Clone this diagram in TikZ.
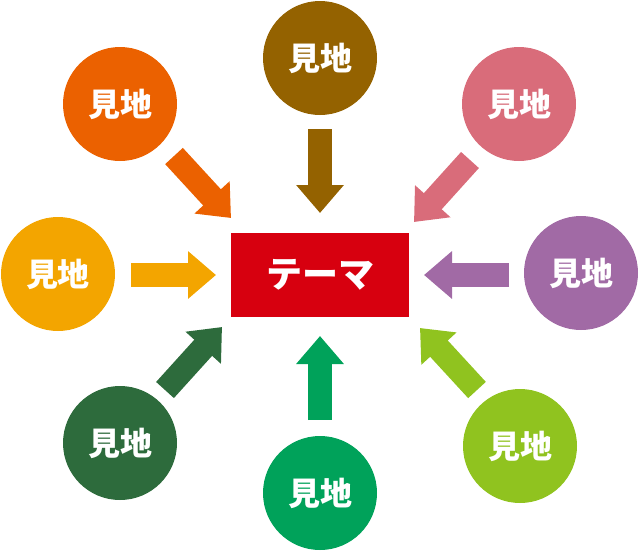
\documentclass[tikz,border=0pt]{standalone}
\usepackage{fontspec}
\newfontfamily\cjk{Noto Sans CJK JP}
\usetikzlibrary{arrows.meta}
\definecolor{cBrown}{HTML}{946200}
\definecolor{cOrange}{HTML}{EB6100}
\definecolor{cPink}{HTML}{D96C7A}
\definecolor{cYellow}{HTML}{F3A500}
\definecolor{cPurple}{HTML}{A16AA5}
\definecolor{cDkGreen}{HTML}{2D6B3C}
\definecolor{cGreen}{HTML}{00A25A}
\definecolor{cLime}{HTML}{90C31F}
\definecolor{cRed}{HTML}{D7000F}
\tikzset{
  view/.style={circle, fill=#1, minimum size=114pt, inner sep=0pt, text=white,
    font=\cjk\bfseries\fontsize{32pt}{32pt}\selectfont},
  blockarrow/.style={draw=#1, line width=24pt,
    -{Triangle[length=28pt,width=46pt]}},
}
\begin{document}
\begin{tikzpicture}[x=1pt,y=-1pt]
\useasboundingbox (0,0) rectangle (640,550);
% theme
\node[fill=cRed, minimum width=178pt, minimum height=84pt, inner sep=0pt, text=white,
  font=\cjk\bfseries\fontsize{36pt}{36pt}\selectfont] (theme) at (320,275) {テーマ};
% viewpoints
\node[view=cBrown]   (vT)  at (320,58)  {見地};
\node[view=cOrange]  (vTL) at (120,104) {見地};
\node[view=cPink]    (vTR) at (519,104) {見地};
\node[view=cYellow]  (vL)  at (58,274)  {見地};
\node[view=cPurple]  (vR)  at (581,273) {見地};
\node[view=cDkGreen] (vBL) at (120,443) {見地};
\node[view=cGreen]   (vB)  at (320,493) {見地};
\node[view=cLime]    (vBR) at (520,446) {見地};
% arrow ends
\coordinate (aT1) at (320,129); \coordinate (aT2) at (320,213);
\coordinate (aB1) at (320,420); \coordinate (aB2) at (320,336);
\coordinate (aL1) at (131,275); \coordinate (aL2) at (216,275);
\coordinate (aR1) at (509,275); \coordinate (aR2) at (424,275);
\coordinate (aTL1) at (174,156); \coordinate (aTL2) at (231,218);
\coordinate (aTR1) at (470,160); \coordinate (aTR2) at (414,222);
\coordinate (aBL1) at (165,390); \coordinate (aBL2) at (222,327);
\coordinate (aBR1) at (477,390); \coordinate (aBR2) at (420,328);
\draw[blockarrow=cBrown]   (aT1) -- (aT2);
\draw[blockarrow=cGreen]   (aB1) -- (aB2);
\draw[blockarrow=cYellow]  (aL1) -- (aL2);
\draw[blockarrow=cPurple]  (aR1) -- (aR2);
\draw[blockarrow=cOrange]  (aTL1) -- (aTL2);
\draw[blockarrow=cPink]    (aTR1) -- (aTR2);
\draw[blockarrow=cDkGreen] (aBL1) -- (aBL2);
\draw[blockarrow=cLime]    (aBR1) -- (aBR2);
\end{tikzpicture}
\end{document}
